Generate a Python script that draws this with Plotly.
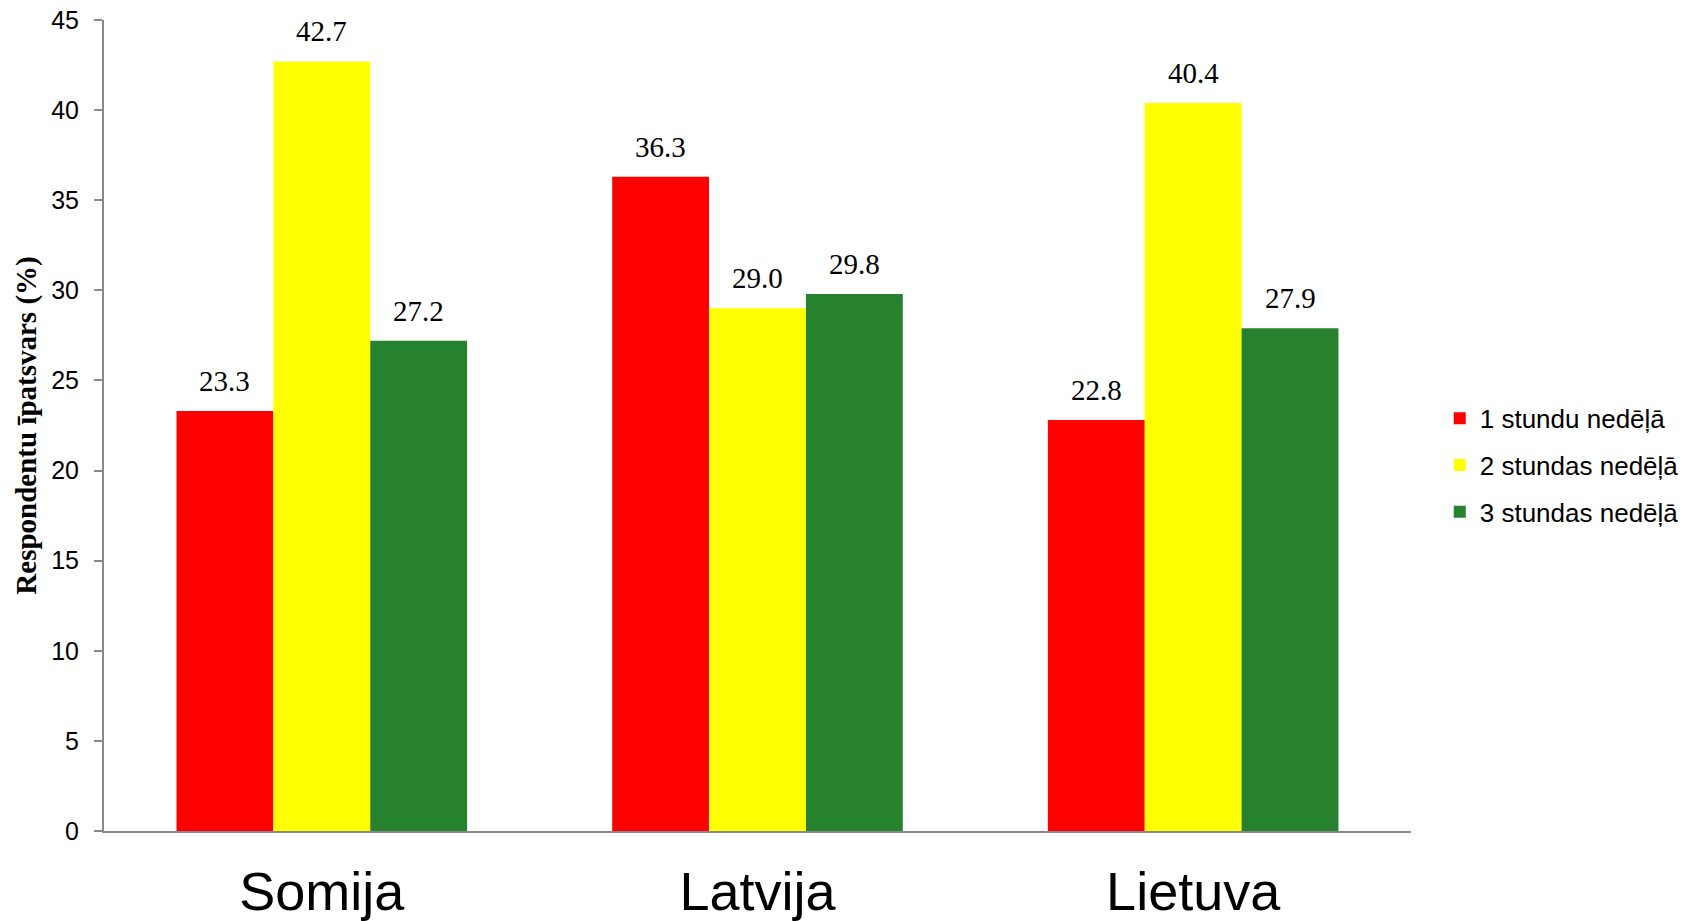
import plotly.graph_objects as go

categories = ["Somija", "Latvija", "Lietuva"]
series_names = ["1 stundu nedēļā", "2 stundas nedēļā", "3 stundas nedēļā"]
values_1h = [23.3, 36.3, 22.8]
values_2h = [42.7, 29.0, 40.4]
values_3h = [27.2, 29.8, 27.9]
colors = ["#FF0000", "#FFFF00", "#26822E"]
y_ticks = [0, 5, 10, 15, 20, 25, 30, 35, 40, 45]

W, H = 1696, 921
ML, MR, MT, MB = 104, 283, 19.5, 90
BARGAP = 0.333
plot_w = W - ML - MR
bar_px = plot_w / len(categories) * (1 - BARGAP) / 3

fig = go.Figure()
all_vals = [values_1h, values_2h, values_3h]
for i, (name, vals) in enumerate(zip(series_names, all_vals)):
    fig.add_trace(go.Bar(
        x=categories, y=vals, name=name,
        marker=dict(color=colors[i], line=dict(width=0)),
        legendgroup=f"g{i}",
    ))
    for c, v in zip(categories, vals):
        fig.add_annotation(
            x=c, y=v, xref="x", yref="y",
            text=f"{v:.1f}", showarrow=False,
            xanchor="center", yanchor="bottom",
            xshift=(i - 1) * bar_px, yshift=12,
            font=dict(family="Liberation Serif", size=29, color="#000000"),
        )

fig.update_layout(
    width=W, height=H,
    margin=dict(l=ML, r=MR, t=MT, b=MB),
    paper_bgcolor="white", plot_bgcolor="white",
    barmode="group", bargap=BARGAP, bargroupgap=0,
    showlegend=True,
    legend=dict(
        x=1.022, y=0.451, xanchor="left", yanchor="middle",
        font=dict(family="Liberation Sans", size=26, color="#000000"),
        tracegroupgap=10, traceorder="grouped",
        itemwidth=30,
    ),
    xaxis=dict(
        showline=True, linecolor="#898989", linewidth=2,
        ticks="", showgrid=False, automargin=False,
        tickfont=dict(family="Liberation Sans", size=54, color="#000000"),
        ticklabelstandoff=12,
    ),
    yaxis=dict(
        range=[0, 45], tickvals=y_ticks, automargin=False,
        showline=True, linecolor="#898989", linewidth=2,
        ticks="outside", ticklen=8, tickcolor="#898989", tickwidth=2,
        showgrid=False, zeroline=False,
        tickfont=dict(family="Liberation Sans", size=25, color="#000000"),
        ticklabelstandoff=10,
        title=dict(text="<b>Respondentu īpatsvars (%)</b>",
                   font=dict(family="Liberation Serif", size=29, color="#000000"),
                   standoff=6),
    ),
)

fig.write_html("out.html")
